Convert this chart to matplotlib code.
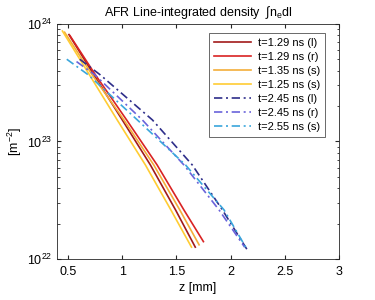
import numpy as np
import matplotlib
matplotlib.use('Agg')
import matplotlib.pyplot as plt

# curves: z [mm] and log10 of line-integrated density
labels = ['t=1.29 ns (l)', 't=1.29 ns (r)', 't=1.35 ns (s)', 't=1.25 ns (s)',
          't=2.45 ns (l)', 't=2.45 ns (r)', 't=2.55 ns (s)']
colors = ['#A21A1A', '#D92323', '#F4AE3A', '#FFCC33',
          '#2E2E8A', '#6A63DA', '#3AA6DC']
styles = ['-', '-', '-', '-', '-.', '-.', '-.']

z_l129 = [0.51, 0.74, 1.002, 1.261, 1.493, 1.675]
n_l129 = [23.91, 23.566, 23.183, 22.8, 22.417, 22.10]
z_r129 = [0.52, 0.755, 1.042, 1.323, 1.57, 1.75]
n_r129 = [23.90, 23.566, 23.183, 22.8, 22.417, 22.147]
z_s135 = [0.47, 0.725, 1.017, 1.292, 1.532, 1.71]
n_s135 = [23.93, 23.566, 23.183, 22.8, 22.417, 22.12]
z_s125 = [0.45, 0.70, 0.955, 1.215, 1.45, 1.64]
n_s125 = [23.94, 23.566, 23.183, 22.8, 22.417, 22.10]
z_l245 = [0.61, 0.80, 1.28, 1.647, 1.925, 2.15]
n_l245 = [23.70, 23.566, 23.183, 22.8, 22.417, 22.083]
z_r245 = [0.58, 0.75, 1.187, 1.57, 1.894, 2.13]
n_r245 = [23.68, 23.566, 23.183, 22.8, 22.417, 22.10]
z_s255 = [0.49, 0.69, 1.141, 1.585, 1.94, 2.14]
n_s255 = [23.70, 23.566, 23.183, 22.8, 22.417, 22.10]

zs = [z_l129, z_r129, z_s135, z_s125, z_l245, z_r245, z_s255]
ns = [n_l129, n_r129, n_s135, n_s125, n_l245, n_r245, n_s255]

plt.rcParams['font.family'] = ['Liberation Sans', 'DejaVu Sans']
plt.rcParams['mathtext.fontset'] = 'custom'
plt.rcParams['mathtext.rm'] = 'Liberation Sans'

fig = plt.figure(figsize=(3.75, 3.0), dpi=100)
ax = fig.add_axes([0.152, 0.137, 0.752, 0.783])

for z, n, lab, c, ls in zip(zs, ns, labels, colors, styles):
    line, = ax.plot(z, 10**np.array(n), ls, color=c, lw=1.2, label=lab)
    if ls == '-.':
        line.set_dashes([5, 2.2, 1.2, 2.2])

ax.set_yscale('log')
ax.set_xlim(0.4, 3)
ax.set_ylim(1e22, 1e24)
ax.set_xticks([0.5, 1, 1.5, 2, 2.5, 3])
ax.set_xticklabels(['0.5', '1', '1.5', '2', '2.5', '3'])
ax.tick_params(which='both', direction='in', top=True, right=True,
               labelsize=9, color='#262626')
ax.tick_params(which='major', length=3)
ax.tick_params(axis='x', pad=5)
ax.tick_params(which='minor', length=1.8)
for s in ax.spines.values():
    s.set_color('#262626')
    s.set_linewidth(0.6)

ax.set_xlabel('z [mm]', fontsize=9, labelpad=3)
ax.set_ylabel('[m$^{-2}$]', fontsize=9, labelpad=2)
ax.set_title('AFR Line-integrated density  ∫n$_{\\rm e}$dl', fontsize=9, pad=6)

leg = ax.legend(loc='upper right', fontsize=8, frameon=True, fancybox=False,
                edgecolor='#262626', handlelength=3.3, labelspacing=0.36,
                borderpad=0.45, handletextpad=0.6, bbox_to_anchor=(0.97, 0.985))
leg.get_frame().set_linewidth(0.6)

fig.savefig('out.png', dpi=100)
